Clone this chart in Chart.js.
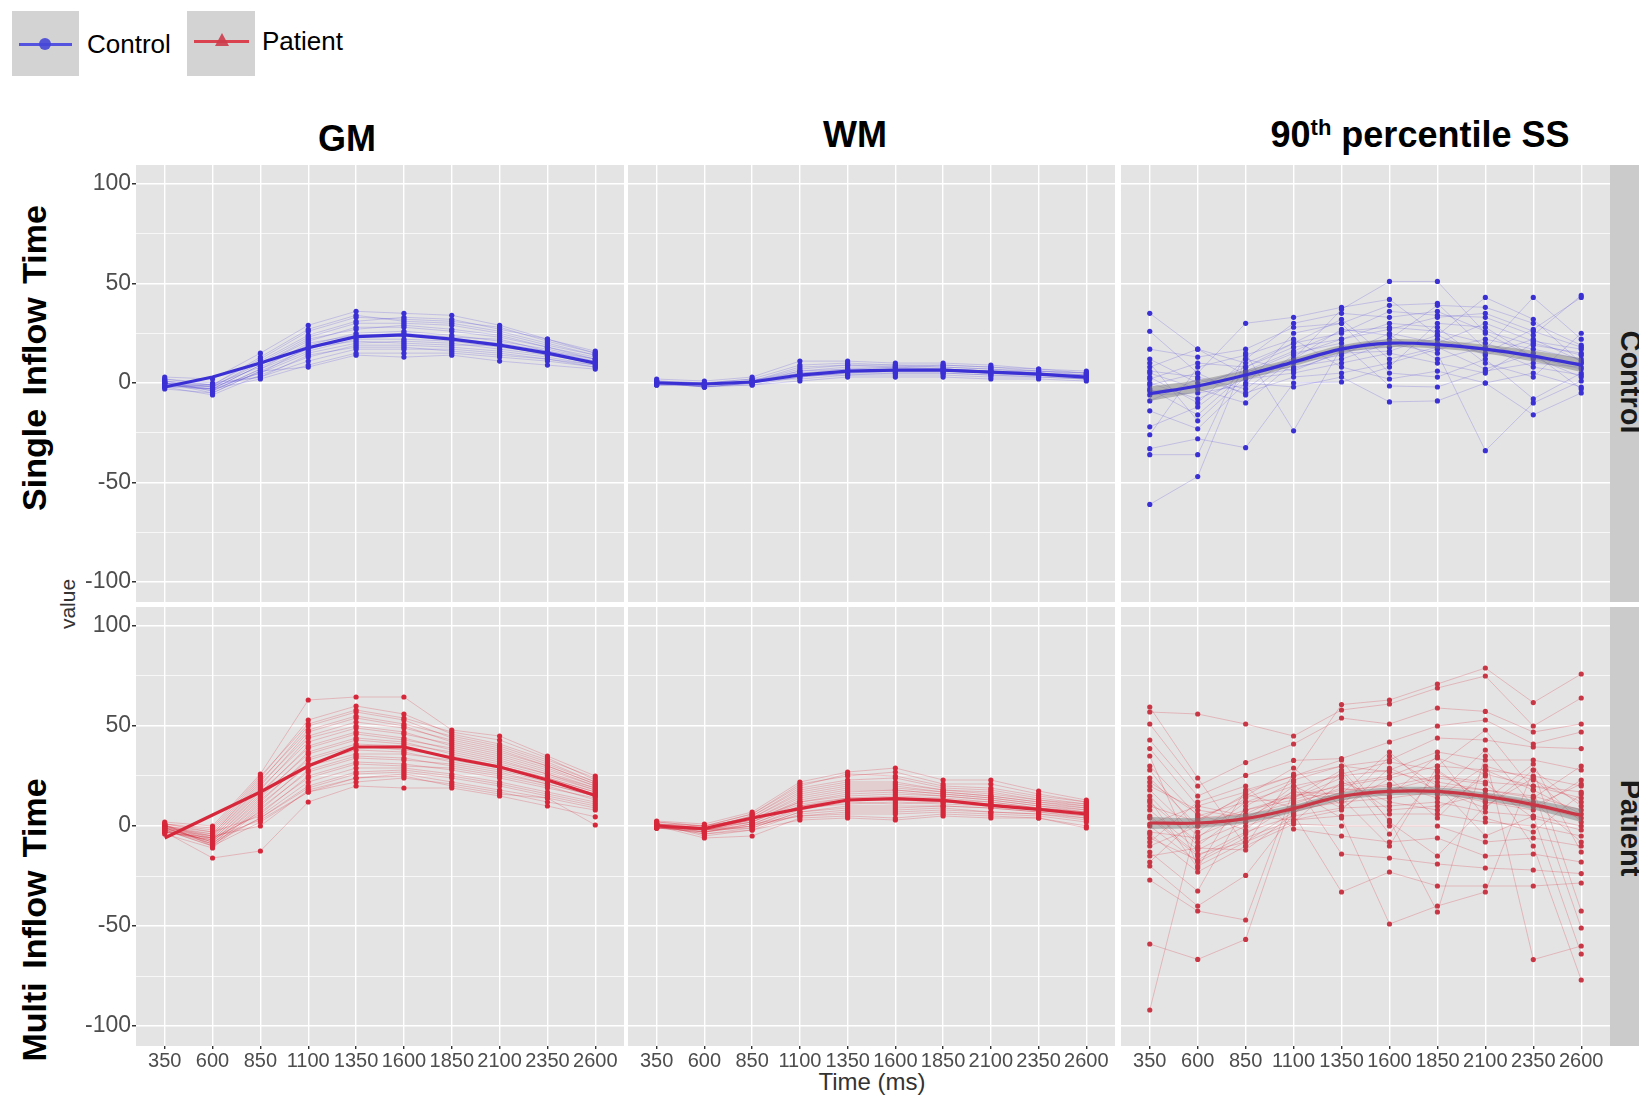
<!DOCTYPE html>
<html>
<head>
<meta charset="utf-8">
<script src="https://cdn.jsdelivr.net/npm/chart.js@4.4.1/dist/chart.umd.min.js"></script>
<style>
  body { margin: 0; background: #fff; font-family: "Liberation Sans", Arial, sans-serif; }
  #page { position: relative; width: 1639px; height: 1095px; overflow: hidden; }
  canvas { position: absolute; }
  .txt { position: absolute; white-space: nowrap; color: #000; }
  .strip { position: absolute; background: #cbcbcb; }
  .key { position: absolute; background: #d3d3d3; }
</style>
</head>
<body>
<div id="page">
  <!-- legend -->
  <div class="key" style="left:12px;top:11px;width:67px;height:65px"></div>
  <div style="position:absolute;left:19px;top:43px;width:53px;height:3px;background:rgba(60,60,225,0.85)"></div>
  <div style="position:absolute;left:39px;top:38px;width:12px;height:12px;border-radius:6px;background:rgba(70,70,215,0.9)"></div>
  <div class="txt" style="left:87px;top:29px;font-size:26px">Control</div>
  <div class="key" style="left:187px;top:11px;width:68px;height:65px"></div>
  <div style="position:absolute;left:194px;top:40px;width:55px;height:3px;background:rgba(220,50,65,0.9)"></div>
  <div style="position:absolute;left:215px;top:33px;width:0;height:0;border-left:7px solid transparent;border-right:7px solid transparent;border-bottom:13px solid rgba(205,60,75,0.9)"></div>
  <div class="txt" style="left:262px;top:26px;font-size:26px">Patient</div>

  <!-- column titles -->
  <div class="txt" style="left:347px;top:139px;transform:translate(-50%,-50%);font-size:36px;font-weight:bold">GM</div>
  <div class="txt" style="left:855px;top:135px;transform:translate(-50%,-50%);font-size:36px;font-weight:bold">WM</div>
  <div class="txt" style="left:1420px;top:135px;transform:translate(-50%,-50%);font-size:36px;font-weight:bold">90<span style="font-size:22px;position:relative;top:-12px">th</span> percentile SS</div>

  <!-- row titles -->
  <div class="txt" style="left:34px;top:358px;transform:translate(-50%,-50%) rotate(-90deg);font-size:34px;font-weight:bold;word-spacing:4px">Single Inflow Time</div>
  <div class="txt" style="left:34px;top:920px;transform:translate(-50%,-50%) rotate(-90deg);font-size:34px;font-weight:bold;word-spacing:4px">Multi Inflow Time</div>
  <div class="txt" style="left:68px;top:604px;transform:translate(-50%,-50%) rotate(-90deg);font-size:21px;color:#333">value</div>
  <div class="txt" style="left:872px;top:1082px;transform:translate(-50%,-50%);font-size:24px;color:#333">Time (ms)</div>

  <!-- facet strips -->
  <div class="strip" style="left:1610px;top:165px;width:29px;height:437px"></div>
  <div class="strip" style="left:1610px;top:607px;width:29px;height:439px"></div>
  <div class="txt" style="left:1630px;top:382px;transform:translate(-50%,-50%) rotate(90deg);font-size:29px;font-weight:bold;color:#1a1a1a">Control</div>
  <div class="txt" style="left:1630px;top:828px;transform:translate(-50%,-50%) rotate(90deg);font-size:29px;font-weight:bold;color:#1a1a1a">Patient</div>
</div>

<script>
const times = [350, 600, 850, 1100, 1350, 1600, 1850, 2100, 2350, 2600];
const yTicks = [-100, -75, -50, -25, 0, 25, 50, 75, 100];

// group means (thick lines)
const gmControlMean = [-2, 3, 10, 17.7, 23.3, 24.2, 22, 19, 15, 10];
const wmControlMean = [0, -0.5, 0.5, 4, 6, 6.5, 6.5, 5.5, 4.5, 3];
const ssControlMean = [-5.3, -1.5, 4, 10.5, 17, 20, 19.3, 17, 13.5, 9];
const gmPatientMean = [-6, 5.5, 17, 30, 39.5, 39.5, 34, 29.5, 23, 15.3];
const wmPatientMean = [0, -1.3, 4, 8.7, 13, 13.7, 12.8, 10.3, 8.3, 6];
const ssPatientMean = [1.5, 1.5, 3.7, 8.7, 14.8, 17.3, 17.3, 14.8, 10.7, 5.3];

// smoother confidence bands (SS panels)
const ssControlLow  = [-9, -4.5, 1.5, 8.5, 15, 18, 17.3, 14.8, 10.8, 5.5];
const ssControlHigh = [-1.8, 1.5, 6.5, 12.5, 19, 22, 21.3, 19.2, 16.2, 12.5];
const ssPatientLow  = [-1.5, -1, 1.5, 6.8, 12.8, 15.3, 15.3, 12.8, 8.3, 2];
const ssPatientHigh = [4.5, 4, 6, 10.6, 16.8, 19.3, 19.3, 16.8, 13.1, 8.6];

// individual subjects (a subset)
const gmControl = [
  [3, 2, 15, 29, 36, 35, 34, 29, 22, 16],
  [1, -1, 12, 26, 33, 32, 31, 28, 21, 15],
  [0, -2, 10, 23, 30, 30, 29, 25, 19, 14],
  [-1, -3, 9, 21, 28, 28, 26, 23, 18, 13],
  [-2, -1, 8, 19, 25, 26, 24, 21, 17, 12],
  [0, -4, 7, 17, 23, 24, 22, 20, 16, 11],
  [-3, -5, 6, 16, 22, 22, 21, 18, 15, 10],
  [1, -2, 5, 15, 20, 21, 20, 17, 14, 10],
  [-2, -6, 4, 13, 19, 19, 18, 16, 13, 9],
  [2, 0, 3, 11, 17, 17, 17, 15, 12, 9],
  [-1, -3, 2, 9, 15, 15, 15, 13, 11, 8],
  [0, -5, 6, 8, 14, 13, 14, 11, 9, 7],
  [2, -1, 13, 27, 34, 31, 30, 26, 20, 14],
  [-1, -2, 11, 24, 31, 33, 32, 27, 22, 15],
  [0, -3, 9, 22, 27, 29, 27, 24, 18, 12],
  [1, -4, 7, 20, 24, 25, 23, 22, 16, 12],
  [-2, -3, 5, 18, 21, 20, 19, 19, 14, 11],
  [0, -1, 3, 14, 18, 18, 16, 14, 12, 8]
];
const wmControl = [
  [2, 1, 3, 11, 11, 10, 10, 9, 7, 6],
  [1, 0, 2, 9, 10, 9, 9, 8, 7, 5],
  [0, -1, 1, 7, 9, 9, 8, 7, 6, 5],
  [1, -1, 1, 6, 8, 8, 8, 7, 5, 4],
  [0, -2, 0, 5, 7, 7, 7, 6, 5, 4],
  [-1, -1, 1, 4, 6, 7, 7, 6, 5, 3],
  [0, -2, 0, 3, 5, 6, 6, 5, 4, 3],
  [-1, -1, -1, 3, 5, 5, 5, 4, 4, 2],
  [0, 0, 2, 2, 4, 4, 4, 3, 3, 2],
  [1, -2, -1, 1, 3, 3, 3, 2, 2, 1],
  [1, 0, 1, 8, 9, 8, 9, 8, 6, 5],
  [0, -1, 0, 6, 7, 8, 7, 6, 6, 4],
  [-1, -1, 1, 5, 6, 6, 6, 5, 5, 3],
  [0, -2, 0, 4, 4, 5, 5, 4, 3, 2]
];
const ssControl = [
  [35, 17, 4, 12, 37, 51, 51, 25, 13, 3],
  [26, 5, 30, 33, 38, 42, 24, 43, 32, 10],
  [17, 13, 17, 28, 30, 39, 40, 17, 43, 22],
  [8, 17, 10, 20, 25, 36, 34, 33, 24, 44],
  [5, -3, -10, 10, 14, 25, 20, 30, 21, 17],
  [2, 10, 8, 18, 22, 30, 28, 10, 3, 25],
  [0, -8, 2, 5, 10, 15, 10, 5, 20, 14],
  [-3, -16, 5, 15, 20, -1.5, -2, 6, 10, 8],
  [-6, -5, -1, 25, 30, 5, 3, 12, -8, 5],
  [-9, 2, -5, 3, 5, 10, 17, 22, 17, 12],
  [-14, -23, 0, -2, 3, -9.5, -9, 0, -16, -5],
  [-22, -12, 6, 8, 12, 20, 15, -34, -10, 1],
  [-33, -28, -32.5, 0, 0.5, 8, 30, 28, 13, 7],
  [-36, -36, 15, -24, 18, 22, 39, 38, 30, 19],
  [-61, -47, 12, 6, 16, 18, 22, 15, 27, 43],
  [-26, 8, 14, 22, 8, 2, 6, 0, 5, -2],
  [12, 0, 6, 16, 26, 28, 26, 20, 12, 10],
  [3, -10, 12, 30, 35, 33, 36, 26, 19, 15],
  [-1, 5, -6, 12, 27, 24, 12, 18, 8, 4],
  [10, -19, 3, 7, 15, 16, 24, 14, 22, 11],
  [-4, -2, 8, 20, 32, 12, 18, 7, 15, -3],
  [6, 3, -3, 14, 22, 27, 33, 35, 26, 18]
];
const gmPatient = [
  [2, 0, 26, 63, 64.5, 64.5, 48, 45, 35, 25],
  [1, -2, 24, 53, 60, 56, 46, 41, 33, 24],
  [0, -4, 22, 50, 57, 53, 44, 39, 31, 22],
  [-1, -5, 20, 47, 54, 50, 42, 37, 30, 21],
  [-2, -6, 18, 44, 50, 47, 40, 35, 28, 20],
  [-3, -7, 16, 40, 47, 44, 38, 33, 26, 19],
  [-1, -8, 14, 37, 44, 42, 36, 31, 25, 18],
  [0, -9, 12, 34, 41, 40, 34, 30, 24, 17],
  [-2, -10, 10, 31, 38, 37, 32, 28, 22, 16],
  [-4, -11, 8, 28, 35, 34, 30, 26, 21, 15],
  [-3, -6, 6, 25, 32, 31, 28, 24, 19, 14],
  [1, -3, 5, 22, 29, 29, 26, 22, 17, 12],
  [-1, -8, 4, 19, 26, 27, 24, 20, 15, 10],
  [-2, -10, 2, 17, 22, 24, 21, 17, 12, 8],
  [-3, -16, -12.5, 12, 20, 19, 19, 15, 10, 4.6],
  [0, -5, 0, 18, 24, 25, 20, 16, 14, 0.5],
  [1, -1, 25, 51, 58, 54, 47, 43, 34, 23],
  [0, -3, 23, 48, 55, 51, 45, 40, 32, 22],
  [-1, -4, 21, 45, 52, 49, 43, 38, 30, 21],
  [-2, -5, 19, 42, 49, 46, 41, 36, 29, 20],
  [-3, -6, 17, 39, 46, 43, 39, 34, 27, 19],
  [0, -7, 15, 36, 43, 41, 37, 32, 26, 18],
  [-1, -8, 13, 33, 40, 38, 35, 30, 24, 17],
  [-2, -9, 11, 30, 36, 36, 33, 29, 23, 16],
  [1, -10, 9, 27, 34, 33, 31, 27, 21, 15],
  [-3, -7, 7, 24, 31, 30, 29, 25, 20, 13],
  [-1, -9, 4, 20, 27, 28, 25, 21, 16, 11],
  [0, -6, 3, 17, 24, 26, 22, 18, 14, 9]
];
const wmPatient = [
  [2.5, 1, 7, 22, 27, 29, 23, 23, 17.5, 13],
  [2, 0, 6, 20, 26, 25, 20, 19, 15, 12],
  [1, -1, 5, 18, 22, 22, 18, 17, 13, 11],
  [1, 0, 4, 16, 20, 20, 17, 15, 12, 10],
  [0, -1, 3, 14, 18, 18, 16, 14, 11, 9],
  [0, -2, 3, 12, 16, 17, 15, 13, 10, 8],
  [-1, -1, 2, 11, 14, 15, 14, 12, 9, 7],
  [0, -2, 1, 10, 13, 13, 12, 11, 9, 6],
  [1, -3, 0, 9, 11, 12, 11, 10, 8, 5],
  [-1, -2, -1, 7, 10, 10, 10, 9, 7, 4],
  [0, -4, -2, 6, 8, 8, 9, 7, 6, 3],
  [-1, -3, 1, 5, 6, 6, 7, 6, 5, 2],
  [0, -6, -5, 4, 5, 4, 6, 5, 4, 0],
  [1, -5, -2, 3, 4, 3, 5, 4, 4, -1],
  [2, 0, 6, 21, 25, 27, 21, 21, 16, 12],
  [1, -1, 5, 19, 23, 24, 19, 18, 14, 11],
  [1, 0, 4, 17, 21, 21, 18, 16, 13, 10],
  [0, -1, 3, 15, 19, 19, 17, 15, 12, 9],
  [0, -2, 2, 13, 17, 18, 16, 14, 11, 8],
  [-1, -2, 2, 12, 15, 16, 15, 13, 10, 7],
  [0, -3, 1, 10, 14, 14, 13, 12, 9, 7],
  [1, -2, 0, 8, 12, 11, 12, 11, 8, 6],
  [0, -4, -1, 7, 9, 9, 10, 9, 7, 5],
  [-1, -3, 0, 5, 7, 7, 8, 7, 6, 4]
];
const ssPatient = [
  [59.5, 24, -10, 26, 60.7, 63, 71, 79, 61.7, 76],
  [57, 56, 51, 45, 58, 61, 69, 75, 50, 64],
  [51, 20, 31.7, 41, 54, 51, 59, 57.3, 47, 51],
  [43, 15, 25.3, 32.8, 33.7, 42, 50, 53, 41, 47],
  [38.7, 10, 17, 25, 30, 33, 44, 43, 39.5, 38.7],
  [30, 5, 12, 20, 25, 28, 37, 33, 33, 28],
  [24, 0, 8, 15, 20, 24, 30, 28, 25, 20],
  [18, -5, 5, 12, 18, 20, 25, 22, 20, 14],
  [12, -8, 2, 10, 15, 17, 20, 18, 15, 8],
  [8, -12, 0, 8, 12, 14, 17, 12, 10, 4],
  [4, -15, -3, 5, 9, 10, 12, 7, 5, 0],
  [0, -18, -6, 3, 5, 6, 6, 2, 0, -5],
  [-4, -23, -10, 1, 0, 0, 0, -8, -6, -10],
  [-8, 12, 20, -1.5, -5, -8, -6, -15, -14, -18],
  [-13, -32.5, 10, 22, -14, -16, -19, -21, -22, -23.8],
  [-20, -40, -24.7, 6, -33, -23, -30, -30, -30, -28.5],
  [-27, -42.5, -47, 18, 4, -49, -40, -33, 28, -42.5],
  [-59, -66.7, -56.7, 14, 28, 3, -43, 35, -66.8, -60],
  [-92, 3, 15, 29, 10, 35, 20, -5, 5, -64],
  [35, -20, -8, 2, 22, 12, 8, 25, -10, -77],
  [20, 8, 4, 16, 14, -10, 30, 48, 18, -51],
  [28, -3, 14, 23, 30, 27, 22, 18, 14, 30],
  [22, 6, -2, 18, 26, 32, 28, 12, 8, 23],
  [15, -10, 8, 13, 21, 25, 34, 26, 20, 17],
  [10, 2, 16, 9, 17, 21, 14, 30, 23, 12],
  [5, -14, -8, 7, 13, 18, 24, 21, 4, -2],
  [1, 10, 5, 3, 8, 29, 18, 9, 28, 10],
  [-3, -6, 12, 14, 24, 8, 10, 16, 12, -8],
  [-6, -17, -4, 11, 19, 15, 35, 4, -3, 16],
  [-10, 0, 2, 20, 9, 24, 4, 28, 18, 6],
  [-15, -11, -12, 6, 27, -4, 27, 13, 31, -13],
  [-18, 4, 6, 17, 16, 37, 16, 38, 10, 21],
  [13, -21, 18, 25, 33, 2, -15, 10, 24, 2]
];

const BLUE = 'rgb(58,48,212)';
const BLUE_THIN = 'rgba(70,60,215,0.25)';
const RED = 'rgb(214,40,58)';
const RED_THIN = 'rgba(214,40,58,0.28)';

const colLeft = [136, 628, 1121];
const colW = [488, 487, 489];
const rowTop = [165, 607];
const rowH = [437, 439];
const Y_AXIS_W = 70;
const X_AXIS_H = 40;

const panels = [
  { row: 0, col: 0, subjects: gmControl, mean: gmControlMean, color: BLUE, thin: BLUE_THIN },
  { row: 0, col: 1, subjects: wmControl, mean: wmControlMean, color: BLUE, thin: BLUE_THIN },
  { row: 0, col: 2, subjects: ssControl, mean: ssControlMean, low: ssControlLow, high: ssControlHigh, color: BLUE, thin: BLUE_THIN },
  { row: 1, col: 0, subjects: gmPatient, mean: gmPatientMean, color: RED, thin: RED_THIN },
  { row: 1, col: 1, subjects: wmPatient, mean: wmPatientMean, color: RED, thin: RED_THIN },
  { row: 1, col: 2, subjects: ssPatient, mean: ssPatientMean, low: ssPatientLow, high: ssPatientHigh, color: 'rgb(200,55,70)', thin: RED_THIN }
];

const panelBg = {
  id: 'panelBg',
  beforeDraw(chart) {
    const a = chart.chartArea, c = chart.ctx;
    c.save();
    c.fillStyle = '#e4e4e4';
    c.fillRect(a.left, a.top, a.right - a.left, a.bottom - a.top);
    c.restore();
  }
};

function pts(vals) {
  return times.map((t, i) => ({ x: t, y: vals[i] }));
}

function noPad(s) {
  s.paddingTop = 0; s.paddingBottom = 0; s.paddingLeft = 0; s.paddingRight = 0;
}

const page = document.getElementById('page');

panels.forEach(p => {
  const hasY = p.col === 0;
  const hasX = p.row === 1;
  const w = colW[p.col] + (hasY ? Y_AXIS_W : 0);
  const h = rowH[p.row] + (hasX ? X_AXIS_H : 0);
  const cv = document.createElement('canvas');
  cv.width = w; cv.height = h;
  cv.style.left = (colLeft[p.col] - (hasY ? Y_AXIS_W : 0)) + 'px';
  cv.style.top = rowTop[p.row] + 'px';
  cv.style.width = w + 'px'; cv.style.height = h + 'px';
  page.appendChild(cv);

  const datasets = [];
  datasets.push({
    data: pts(p.mean), borderColor: p.color, borderWidth: 3.2,
    pointRadius: 0, order: 0, tension: p.low ? 0.35 : 0
  });
  if (p.low) {
    datasets.push({ data: pts(p.low), borderWidth: 0, pointRadius: 0, order: 1, tension: 0.35, fill: false });
    datasets.push({ data: pts(p.high), borderWidth: 0, pointRadius: 0, order: 1, tension: 0.35,
      fill: '-1', backgroundColor: 'rgba(120,120,120,0.45)' });
  }
  p.subjects.forEach(s => {
    datasets.push({
      data: pts(s), borderColor: p.thin, borderWidth: 0.9,
      pointRadius: 2.6, pointBackgroundColor: p.color, pointBorderWidth: 0, order: 2
    });
  });

  new Chart(cv, {
    type: 'line',
    data: { datasets },
    plugins: [panelBg],
    options: {
      responsive: false,
      animation: false,
      layout: { autoPadding: false, padding: 0 },
      plugins: { legend: { display: false }, tooltip: { enabled: false } },
      scales: {
        x: {
          type: 'linear', min: 200, max: 2750,
          afterBuildTicks: s => { s.ticks = times.map(v => ({ value: v })); },
          afterFit: s => { s.height = hasX ? X_AXIS_H : 0; noPad(s); },
          border: { display: false },
          grid: { color: '#ffffff', lineWidth: 1.4, drawTicks: hasX, tickLength: 3, tickColor: '#333333' },
          ticks: {
            display: hasX, autoSkip: false, maxRotation: 0, padding: 0,
            color: '#4d4d4d', font: { family: '"Liberation Sans", Arial', size: 20 },
            callback: v => String(v)
          }
        },
        y: {
          type: 'linear', min: -110, max: 109.5,
          afterBuildTicks: s => { s.ticks = yTicks.map(v => ({ value: v })); },
          afterFit: s => { s.width = hasY ? Y_AXIS_W : 0; noPad(s); },
          border: { display: false },
          grid: {
            color: '#ffffff',
            lineWidth: c => (c.tick && c.tick.value % 50 === 0) ? 1.5 : 0.7,
            drawTicks: hasY, tickLength: 4,
            tickColor: c => (c.tick && c.tick.value % 50 === 0) ? '#333333' : 'rgba(0,0,0,0)'
          },
          ticks: {
            display: hasY, padding: 1, color: '#4d4d4d',
            font: { family: '"Liberation Sans", Arial', size: 23 },
            callback: v => (v % 50 === 0 ? String(v) : '')
          }
        }
      }
    }
  });
});
</script>
</body>
</html>
